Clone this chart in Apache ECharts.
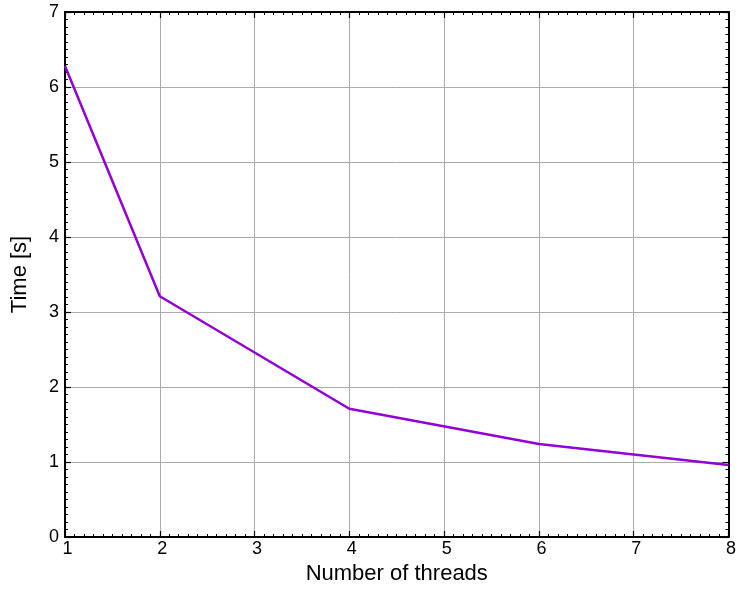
<!DOCTYPE html>
<html><head><meta charset="utf-8">
<script src="https://cdn.jsdelivr.net/npm/echarts@6/dist/echarts.min.js"></script>
<style>html,body{margin:0;padding:0;background:#fff;overflow:hidden}#c{width:739px;height:591px}</style>
</head><body><div id="c"></div>
<script>
const threads = [1, 2, 4, 6, 8];
const times = [6.28, 3.21, 1.71, 1.24, 0.96];
const xTicks = [1, 2, 3, 4, 5, 6, 7, 8];
const yTicks = [0, 1, 2, 3, 4, 5, 6, 7];

const font = 'Liberation Sans, Arial, Helvetica, sans-serif';
const chart = echarts.init(document.getElementById('c'), null, {renderer: 'canvas', width: 739, height: 591});
const axisCommon = {
  axisLine: {show: true, onZero: false, lineStyle: {color: '#000', width: 2}},
  axisTick: {show: true, inside: true, length: 6, lineStyle: {color: '#000', width: 1.2}},
  minorTick: {show: true, splitNumber: 10, length: 3, lineStyle: {color: '#000', width: 1}},
};
chart.setOption({
  animation: false,
  grid: {left: 65, width: 667, top: 12, height: 525, containLabel: false},
  xAxis: [
    Object.assign({}, axisCommon, {
      type: 'value', min: xTicks[0], max: xTicks[xTicks.length - 1], interval: 1,
      position: 'bottom',
      name: 'Number of threads', nameLocation: 'middle', nameGap: 25,
      nameTextStyle: {fontFamily: font, fontSize: 22, color: '#000', verticalAlign: 'top'},
      axisLabel: {show: true, fontFamily: font, fontSize: 18, color: '#000', margin: 3, padding: [0, 0, 0, 5]},
      splitLine: {show: true, lineStyle: {color: '#aaa', width: 1}}
    }),
    Object.assign({}, axisCommon, {
      type: 'value', min: xTicks[0], max: xTicks[xTicks.length - 1], interval: 1,
      position: 'top', axisLabel: {show: false}, splitLine: {show: false}
    })
  ],
  yAxis: [
    Object.assign({}, axisCommon, {
      type: 'value', min: yTicks[0], max: yTicks[yTicks.length - 1], interval: 1,
      position: 'left',
      name: 'Time [s]', nameLocation: 'middle', nameGap: 34, nameRotate: 90,
      nameTextStyle: {fontFamily: font, fontSize: 22, color: '#000'},
      axisLabel: {show: true, fontFamily: font, fontSize: 18, color: '#000', margin: 6, padding: [4, 0, 0, 0]},
      splitLine: {show: true, lineStyle: {color: '#aaa', width: 1}}
    }),
    Object.assign({}, axisCommon, {
      type: 'value', min: yTicks[0], max: yTicks[yTicks.length - 1], interval: 1,
      position: 'right', axisLabel: {show: false}, splitLine: {show: false}
    })
  ],
  series: [{
    type: 'line',
    data: threads.map((t, i) => [t, times[i]]),
    showSymbol: false,
    lineStyle: {color: '#9400D3', width: 2.5},
    itemStyle: {color: '#9400D3'},
    z: 5
  }]
});
</script></body></html>
